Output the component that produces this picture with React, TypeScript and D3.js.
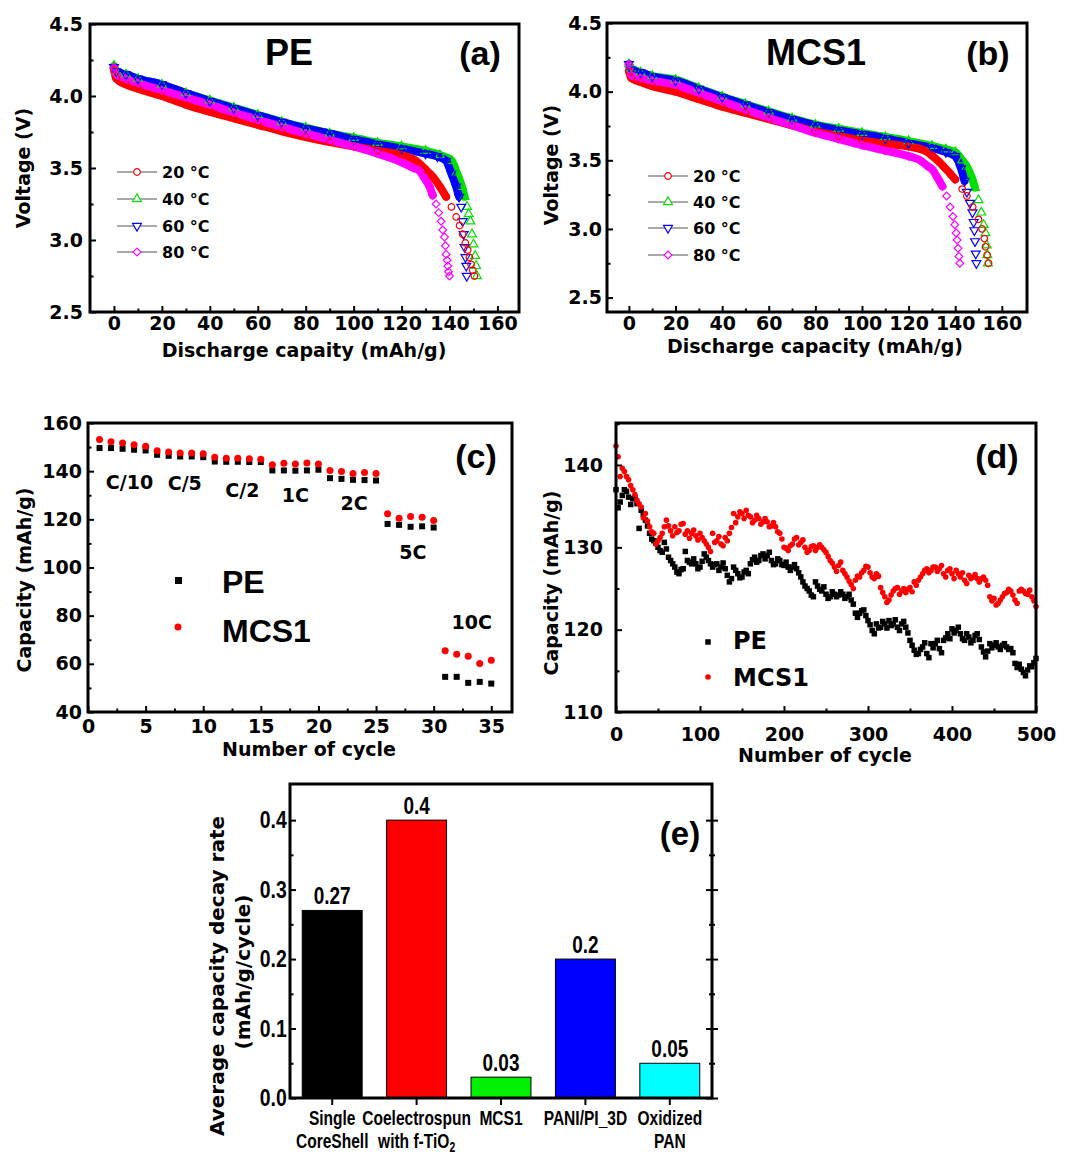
import { useEffect, useRef } from "react";
import * as d3 from "d3";

type Pt = [number, number];

// (a) PE separator – discharge curves, [capacity mAh/g, voltage V]
const peT20: Pt[] = [[0,4.18],[1,4.12],[5,4.08],[10,4.05],[20,4.0],[30,3.94],[40,3.89],[50,3.845],[60,3.8],[70,3.755],[80,3.715],[90,3.68],[100,3.65],[110,3.62],[120,3.59],[126,3.55],[130,3.49],[133,3.44],[136,3.37],[138.6,3.3],[140.8,3.23],[142.8,3.16],[144.2,3.1],[145.5,3.04],[146.6,2.98],[147.6,2.93],[148.3,2.88],[149,2.83],[149.7,2.79],[150.4,2.75]];
const peT40: Pt[] = [[0,4.21],[1,4.17],[5,4.15],[10,4.12],[20,4.08],[30,4.02],[40,3.97],[50,3.92],[60,3.87],[70,3.82],[80,3.78],[90,3.74],[100,3.71],[110,3.675],[120,3.65],[130,3.62],[136,3.59],[141,3.55],[143,3.47],[145.2,3.37],[146.3,3.3],[147.3,3.23],[148,3.18],[148.7,3.13],[149.4,3.04],[150,2.97],[150.7,2.89],[151.1,2.82],[151.4,2.75]];
const peT60: Pt[] = [[0,4.2],[1,4.17],[5,4.15],[10,4.12],[20,4.08],[30,4.02],[40,3.965],[50,3.915],[60,3.865],[70,3.82],[80,3.775],[90,3.74],[100,3.7],[110,3.665],[120,3.635],[130,3.6],[135,3.58],[138.6,3.55],[140.8,3.46],[142.8,3.37],[144,3.3],[144.9,3.23],[145.5,3.13],[145.9,3.04],[146.3,2.95],[146.7,2.88],[147,2.82],[147.2,2.75]];
const peT80: Pt[] = [[0,4.2],[1,4.15],[5,4.12],[10,4.09],[20,4.04],[30,3.99],[40,3.94],[50,3.885],[60,3.835],[70,3.785],[80,3.74],[90,3.695],[100,3.65],[110,3.6],[120,3.54],[125,3.5],[127.5,3.48],[129.5,3.43],[131.7,3.37],[133,3.31],[134.4,3.25],[135.5,3.19],[136.5,3.13],[137.2,3.07],[137.9,3.02],[138.3,2.96],[138.6,2.9],[139,2.86],[139.3,2.82],[139.6,2.78],[140,2.75]];

// (b) MCS1 separator – discharge curves
const mcsT20: Pt[] = [[0,4.15],[1,4.1],[5,4.07],[10,4.04],[20,4.0],[30,3.945],[40,3.89],[50,3.845],[60,3.8],[70,3.755],[80,3.71],[90,3.675],[100,3.645],[110,3.62],[120,3.6],[127,3.57],[130,3.535],[133,3.49],[135,3.455],[138,3.4],[140,3.36],[143,3.29],[145,3.24],[147.5,3.16],[150,3.07],[151.5,3.0],[152.5,2.93],[153,2.87],[153.7,2.81],[154.3,2.75]];
const mcsT40: Pt[] = [[0,4.2],[1,4.17],[5,4.14],[10,4.115],[20,4.087],[30,4.025],[40,3.965],[50,3.91],[60,3.856],[70,3.805],[80,3.76],[90,3.73],[100,3.7],[110,3.67],[120,3.64],[130,3.605],[136,3.58],[140,3.56],[143,3.5],[145,3.455],[147,3.38],[148.5,3.3],[150,3.21],[151.2,3.12],[152.2,3.03],[153,2.97],[153.5,2.88],[153.8,2.81],[154,2.75]];
const mcsT60: Pt[] = [[0,4.2],[1,4.16],[5,4.14],[10,4.11],[20,4.08],[30,4.02],[40,3.96],[50,3.905],[60,3.85],[70,3.8],[80,3.755],[90,3.72],[100,3.69],[110,3.66],[120,3.625],[130,3.59],[136,3.56],[140,3.53],[142.5,3.44],[144,3.35],[145,3.27],[146.3,3.19],[147.4,3.12],[147.9,3.05],[148.2,2.99],[148.5,2.91],[148.8,2.82],[149.1,2.75]];
const mcsT80: Pt[] = [[0,4.2],[1,4.12],[5,4.1],[10,4.08],[20,4.05],[30,3.99],[40,3.93],[50,3.87],[60,3.81],[70,3.755],[80,3.7],[90,3.655],[100,3.61],[110,3.57],[120,3.53],[125,3.5],[128,3.46],[130.3,3.43],[132.5,3.37],[134.5,3.31],[136.3,3.24],[137.8,3.16],[139,3.09],[139.8,3.03],[140.4,2.97],[140.8,2.92],[141.2,2.86],[141.6,2.8],[142,2.75]];

const temps = ["20 °C", "40 °C", "60 °C", "80 °C"];
const tempColors = ["#ff0000", "#00e000", "#0000ff", "#ff00ff"];

// (c) rate capability, cycles 1..35
const rateCycles = d3.range(1, 36);
const ratePE = [149.6,149.6,149.3,148.9,148.6, 146.8,146.4,146.1,146.1,145.8, 144.0,143.9,143.9,143.8,143.8, 140.3,140.3,140.2,140.3,140.6, 137.1,136.8,136.4,136.3,136.1, 118.1,117.7,116.9,117.1,116.6, 54.6,54.6,52.1,52.5,51.8];
const rateMCS = [153.1,152.2,151.7,151.0,150.3, 148.5,148.0,147.5,147.5,147.2, 145.8,145.4,145.4,145.2,145.0, 142.7,143.3,143.0,143.4,143.0, 140.3,139.9,139.0,139.4,139.0, 122.3,120.5,121.2,120.9,119.5, 65.4,64.0,63.2,60.1,61.5];
const rateNames = ["C/10", "C/5", "C/2", "1C", "2C", "5C", "10C"];

// (d) long cycling: readings at cycles 0,5,...,500 and at 2.5,7.5,...,497.5
const cycleStep = 5;
const cyclePE = [137.0,135.5,137.0,136.1,135.9,135.3,134.5,133.3,131.7,130.8,130.0,129.4,129.8,128.4,127.6,126.8,127.4,128.4,128.0,128.0,127.6,129.2,128.4,127.6,128.0,127.6,127.4,125.8,127.6,126.8,126.4,127.2,128.0,128.8,128.4,129.2,129.0,128.4,128.0,128.4,127.8,127.6,127.6,127.4,126.4,125.3,124.7,124.0,125.3,124.7,124.3,124.0,124.3,124.2,124.3,124.0,123.6,122.0,122.0,122.4,121.1,119.9,120.7,120.3,120.7,121.1,120.7,120.3,120.7,120.3,118.7,117.5,117.1,117.9,117.1,118.3,118.3,117.7,118.7,119.5,120.1,119.9,119.5,118.7,119.1,118.7,119.5,117.9,116.7,118.3,118.1,117.9,118.1,117.9,117.7,115.9,115.8,114.8,115.1,115.5,116.5];
const cyclePEmid = [134.8,136.3,136.8,135.2,136.0,132.3,134.0,132.6,131.0,130.5,129.6,130.6,128.8,128.0,127.0,127.3,129.5,128.2,128.6,127.4,128.3,128.8,128.0,127.9,127.2,128.1,126.6,126.2,127.2,126.3,127.0,126.8,128.5,128.2,129.0,128.6,129.4,127.9,128.6,127.9,128.2,127.2,127.9,126.9,125.8,125.0,124.2,125.8,124.9,125.2,123.8,124.6,124.0,124.6,123.8,124.3,123.1,121.5,122.3,121.7,120.6,119.5,120.2,121.0,120.2,120.5,121.2,119.9,121.0,119.6,118.1,117.0,117.6,118.4,116.6,117.8,118.7,117.2,119.0,118.9,119.6,120.3,118.9,119.5,118.4,119.3,118.8,117.3,117.4,117.8,118.4,117.6,118.3,117.6,117.2,115.4,115.2,114.4,115.6,116.0];
const cycleMCS = [142.3,138.6,139.2,138.2,137.0,135.7,134.9,134.1,132.5,131.7,130.8,131.7,133.3,132.0,132.5,132.0,132.9,132.0,131.7,131.4,131.7,130.8,130.0,131.7,130.8,130.4,131.2,131.7,134.1,133.7,134.1,134.5,133.7,133.3,133.5,133.1,133.1,132.6,132.5,131.7,130.0,129.6,130.4,131.2,130.6,130.0,129.6,130.2,130.0,130.0,129.4,128.4,127.6,127.8,127.2,126.4,125.5,126.0,126.4,127.2,127.6,126.4,126.8,125.1,124.0,123.6,124.7,125.1,124.7,124.5,125.1,125.8,126.0,126.8,127.4,127.2,127.6,127.4,126.8,127.2,126.8,127.2,126.4,126.0,126.6,126.4,126.2,126.2,126.0,124.0,123.8,123.2,124.0,124.5,124.7,123.6,124.7,124.7,124.3,124.0,122.8];
const cycleMCSmid = [141.0,139.6,138.6,137.5,136.4,135.3,133.6,133.2,131.9,130.4,131.2,132.5,132.6,131.4,131.8,132.8,131.6,131.1,132.1,130.9,131.2,130.4,129.5,130.6,131.3,130.2,130.8,132.4,133.0,134.3,133.5,133.9,133.0,133.9,132.8,133.5,132.5,133.0,131.9,131.0,129.9,130.2,131.0,130.3,130.9,129.4,130.1,129.6,130.3,129.7,128.9,128.1,127.1,128.2,126.8,125.9,125.0,126.5,126.9,127.7,126.9,126.2,126.5,124.5,123.3,124.2,125.0,124.3,125.0,124.9,124.6,125.4,126.4,127.2,126.9,127.6,127.1,127.8,126.4,127.4,126.2,126.8,126.9,125.6,126.2,126.7,125.8,126.4,125.4,123.5,123.0,123.6,124.4,124.9,124.2,123.2,124.9,124.4,124.8,123.5];

// (e) average capacity decay rate
const decayCats = ["Single CoreShell", "Coelectrospun with f-TiO2", "MCS1", "PANI/PI_3D", "Oxidized PAN"];
const decayVals = [0.27, 0.4, 0.03, 0.2, 0.05];
const decayLabels = ["0.27", "0.4", "0.03", "0.2", "0.05"];
const decayColors = ["#000000", "#ff0000", "#00ee00", "#0000ff", "#00ffff"];

const DJ = "'DejaVu Sans', sans-serif";
const ARIAL = "'Liberation Sans', Arial, sans-serif";

function styleAxis(sel: any, font: string, size: number, sx = 1) {
  sel.select(".domain").remove();
  sel.selectAll("line").attr("stroke", "#000").attr("stroke-width", 2);
  const t = sel.selectAll("text")
    .attr("font-family", font)
    .attr("font-size", size)
    .attr("font-weight", "bold")
    .attr("fill", "#000");
  if (sx !== 1) t.attr("transform", `scale(${sx},1)`);
}

function axes(g: any, x: any, y: any, o: any) {
  const bottom = y.range()[0];
  const left = x.range()[0];
  const font = o.font || DJ;
  const size = o.size || 19;
  g.append("g").attr("transform", `translate(0,${bottom})`)
    .call(d3.axisBottom(x).tickValues(o.xMajor).tickSize(-6).tickPadding(o.xPad).tickFormat(o.xFmt))
    .call((s: any) => styleAxis(s, font, size));
  g.append("g").attr("transform", `translate(0,${bottom})`)
    .call(d3.axisBottom(x).tickValues(o.xMinor).tickSize(-3.5).tickFormat(() => ""))
    .call((s: any) => styleAxis(s, font, size));
  g.append("g").attr("transform", `translate(${left},0)`)
    .call(d3.axisLeft(y).tickValues(o.yMajor).tickSize(-6).tickPadding(o.yPad).tickFormat(o.yFmt))
    .call((s: any) => styleAxis(s, font, size));
  g.append("g").attr("transform", `translate(${left},0)`)
    .call(d3.axisLeft(y).tickValues(o.yMinor).tickSize(-3.5).tickFormat(() => ""))
    .call((s: any) => styleAxis(s, font, size));
}

function frame(g: any, xr: number[], y: any) {
  const [x0, x1] = xr;
  const [y1, y0] = y.range();
  g.append("rect").attr("x", x0).attr("y", y0).attr("width", x1 - x0).attr("height", y1 - y0)
    .attr("fill", "none").attr("stroke", "#000").attr("stroke-width", 3);
}

function text(g: any, x: number, y: number, s: string, font: string, size: number,
  anchor = "middle", rotate = false, sx = 1) {
  const t = g.append("text").text(s)
    .attr("font-family", font).attr("font-size", size).attr("font-weight", "bold")
    .attr("text-anchor", anchor).attr("fill", "#000");
  if (rotate) {
    t.attr("x", x).attr("y", y).attr("transform", `rotate(-90,${x},${y})`).attr("dominant-baseline", "central");
  } else if (sx !== 1) {
    t.attr("x", 0).attr("y", 0).attr("transform", `translate(${x},${y}) scale(${sx},1)`);
  } else {
    t.attr("x", x).attr("y", y);
  }
  return t;
}

const symTypes = [d3.symbolCircle, d3.symbolTriangle, d3.symbolTriangle, d3.symbolSquare];
const symRot = ["", "", " rotate(180)", " rotate(45)"];
const symSize = [34, 34, 34, 30];

function marker(i: number) {
  return d3.symbol().type(symTypes[i]).size(symSize[i])();
}

function discharge(g: any, x: any, y: any, series: Pt[][], lx: number, ly: number[], tx: number) {
  const order = [1, 2, 0, 3];
  const line = d3.line<Pt>().x(d => x(d[0])).y(d => y(d[1])).curve(d3.curveMonotoneX);
  order.forEach(i => {
    g.append("path").datum(series[i].filter(d => d[1] >= 3.3)).attr("d", line)
      .attr("fill", "none").attr("stroke", tempColors[i]).attr("stroke-width", 8)
      .attr("stroke-linecap", "round").attr("stroke-linejoin", "round");
  });
  order.forEach(i => {
    g.append("g").selectAll("path").data(series[i]).join("path")
      .attr("transform", (d: Pt) => `translate(${x(d[0])},${y(d[1])})${symRot[i]}`)
      .attr("d", marker(i)).attr("fill", "none").attr("stroke", tempColors[i]).attr("stroke-width", 1.2);
  });
  // legend
  temps.forEach((t, i) => {
    g.append("line").attr("x1", lx - 20).attr("x2", lx + 20).attr("y1", ly[i]).attr("y2", ly[i])
      .attr("stroke", "#555").attr("stroke-width", 1.2);
    g.append("path").attr("transform", `translate(${lx},${ly[i]})${symRot[i]}`).attr("d", marker(i))
      .attr("fill", "#fff").attr("stroke", tempColors[i]).attr("stroke-width", 1.2);
    text(g, tx, ly[i] + 6, t, DJ, 16, "start");
  });
}

export default function App() {
  const ref = useRef<SVGSVGElement>(null);

  useEffect(() => {
    const svg = d3.select(ref.current);
    svg.selectAll("*").remove();
    const fmt1 = d3.format(".1f");

    // ---------- (a) ----------
    {
      const g = svg.append("g");
      const x = d3.scaleLinear().domain([-10, 169]).range([90, 519]);
      const y = d3.scaleLinear().domain([2.5, 4.5]).range([312, 24]);
      axes(g, x, y, {
        xMajor: d3.range(0, 161, 20), xMinor: d3.range(10, 161, 20), xPad: 5, xFmt: d3.format("d"),
        yMajor: d3.range(2.5, 4.51, 0.5), yMinor: d3.range(2.75, 4.5, 0.5), yPad: 7, yFmt: fmt1,
      });
      discharge(g, x, y, [peT20, peT40, peT60, peT80], 137, [172, 199, 226, 252], 162);
      frame(g, x.range(), y);
      text(g, 289, 65, "PE", ARIAL, 36);
      text(g, 480, 65, "(a)", ARIAL, 34);
      text(g, 23, 168, "Voltage (V)", DJ, 19, "middle", true);
      text(g, 304, 357, "Discharge capaity (mAh/g)", DJ, 19);
    }

    // ---------- (b) ----------
    {
      const g = svg.append("g");
      const x = d3.scaleLinear().domain([-9.4, 170.8]).range([607, 1027]);
      const y = d3.scaleLinear().domain([2.395, 4.5]).range([312, 23]);
      axes(g, x, y, {
        xMajor: d3.range(0, 161, 20), xMinor: d3.range(10, 161, 20), xPad: 5, xFmt: d3.format("d"),
        yMajor: d3.range(2.5, 4.51, 0.5), yMinor: d3.range(2.75, 4.5, 0.5), yPad: 5, yFmt: fmt1,
      });
      discharge(g, x, y, [mcsT20, mcsT40, mcsT60, mcsT80], 668, [176, 202, 228, 255], 693);
      frame(g, x.range(), y);
      text(g, 816, 65, "MCS1", ARIAL, 36);
      text(g, 988, 65, "(b)", ARIAL, 34);
      text(g, 551, 165, "Voltage (V)", DJ, 19, "middle", true);
      text(g, 815, 353, "Discharge capacity (mAh/g)", DJ, 19);
    }

    // ---------- (c) ----------
    {
      const g = svg.append("g");
      const x = d3.scaleLinear().domain([0, 36.8]).range([88, 512]);
      const y = d3.scaleLinear().domain([40, 160]).range([712, 423]);
      axes(g, x, y, {
        xMajor: d3.range(0, 36, 5), xMinor: d3.range(2.5, 36, 5), xPad: 8, xFmt: d3.format("d"),
        yMajor: d3.range(40, 161, 20), yMinor: d3.range(50, 160, 20), yPad: 6, yFmt: d3.format("d"),
      });
      g.append("g").selectAll("rect").data(ratePE).join("rect")
        .attr("x", (_: number, i: number) => x(rateCycles[i]) - 3).attr("y", (d: number) => y(d) - 3)
        .attr("width", 6).attr("height", 6).attr("fill", "#000");
      g.append("g").selectAll("circle").data(rateMCS).join("circle")
        .attr("cx", (_: number, i: number) => x(rateCycles[i])).attr("cy", (d: number) => y(d))
        .attr("r", 3.5).attr("fill", "#ff0000");
      const labelPos: Pt[] = [[3.6, 135.5], [8.4, 135.1], [13.4, 132.2], [18.0, 130.1], [23.1, 126.8], [28.2, 106.4], [33.3, 77.4]];
      rateNames.forEach((n, i) => {
        text(g, x(labelPos[i][0]), y(labelPos[i][1]) + 7, n, DJ, 19);
      });
      g.append("rect").attr("x", 175).attr("y", 577).attr("width", 7).attr("height", 7).attr("fill", "#000");
      g.append("circle").attr("cx", 178).attr("cy", 627).attr("r", 3.5).attr("fill", "#ff0000");
      text(g, 222, 593, "PE", ARIAL, 32, "start");
      text(g, 222, 642, "MCS1", ARIAL, 32, "start");
      frame(g, x.range(), y);
      text(g, 476, 468, "(c)", ARIAL, 34);
      text(g, 24, 580, "Capacity (mAh/g)", DJ, 19, "middle", true);
      text(g, 309, 756, "Number of cycle", DJ, 19);
    }

    // ---------- (d) ----------
    {
      const g = svg.append("g");
      const x = d3.scaleLinear().domain([0, 500]).range([616, 1036]);
      const y = d3.scaleLinear().domain([110, 145.1]).range([712, 423]);
      axes(g, x, y, {
        xMajor: d3.range(0, 501, 100), xMinor: d3.range(50, 500, 100), xPad: 16, xFmt: d3.format("d"),
        yMajor: d3.range(110, 141, 10), yMinor: d3.range(115, 146, 10), yPad: 13, yFmt: d3.format("d"),
      });
      const sq = 5.5, r = 2.8;
      const drawPE = (vals: number[], off: number) =>
        g.append("g").selectAll("rect").data(vals).join("rect")
          .attr("x", (_: number, i: number) => x(i * cycleStep + off) - sq / 2).attr("y", (d: number) => y(d) - sq / 2)
          .attr("width", sq).attr("height", sq).attr("fill", "#000");
      const drawMCS = (vals: number[], off: number) =>
        g.append("g").selectAll("circle").data(vals).join("circle")
          .attr("cx", (_: number, i: number) => x(i * cycleStep + off)).attr("cy", (d: number) => y(d))
          .attr("r", r).attr("fill", "#ff0000");
      drawPE(cyclePE, 0);
      drawPE(cyclePEmid, cycleStep / 2);
      drawMCS(cycleMCS, 0);
      drawMCS(cycleMCSmid, cycleStep / 2);
      g.append("rect").attr("x", 708 - sq / 2).attr("y", 642 - sq / 2).attr("width", sq).attr("height", sq).attr("fill", "#000");
      g.append("circle").attr("cx", 708).attr("cy", 677).attr("r", r).attr("fill", "#ff0000");
      text(g, 733, 649, "PE", DJ, 24, "start");
      text(g, 733, 686, "MCS1", DJ, 24, "start");
      frame(g, x.range(), y);
      text(g, 997, 468, "(d)", ARIAL, 34);
      text(g, 551, 583, "Capacity (mAh/g)", DJ, 19, "middle", true);
      text(g, 825, 762, "Number of cycle", DJ, 19);
    }

    // ---------- (e) ----------
    {
      const g = svg.append("g");
      const x = d3.scaleBand().domain(decayCats).range([290, 712]).paddingInner(0.29).paddingOuter(0.145);
      const y = d3.scaleLinear().domain([0, 0.452]).range([1098, 784]);
      g.append("g").selectAll("rect").data(decayVals).join("rect")
        .attr("x", (_: number, i: number) => x(decayCats[i])).attr("y", (d: number) => y(d))
        .attr("width", x.bandwidth()).attr("height", (d: number) => y(0) - y(d))
        .attr("fill", (_: number, i: number) => decayColors[i]).attr("stroke", "#000").attr("stroke-width", 1);
      decayVals.forEach((v, i) => {
        text(g, x(decayCats[i])! + x.bandwidth() / 2, y(v) - 6, decayLabels[i], ARIAL, 24, "middle", false, 0.79);
      });
      const yMajor = d3.range(0, 0.41, 0.1);
      const yMinor = d3.range(0.05, 0.45, 0.1);
      g.append("g").attr("transform", "translate(290,0)")
        .call(d3.axisLeft(y).tickValues(yMajor).tickSize(-6).tickPadding(4).tickFormat(fmt1))
        .call((s: any) => styleAxis(s, ARIAL, 24, 0.81));
      g.append("g").attr("transform", "translate(290,0)")
        .call(d3.axisLeft(y).tickValues(yMinor).tickSize(-3.5).tickFormat(() => ""))
        .call((s: any) => styleAxis(s, ARIAL, 24));
      [6, -6].forEach(sz => {
        g.append("g").attr("transform", "translate(712,0)")
          .call(d3.axisRight(y).tickValues(yMajor).tickSize(sz).tickFormat(() => ""))
          .call((s: any) => styleAxis(s, ARIAL, 24));
        g.append("g").attr("transform", "translate(712,0)")
          .call(d3.axisRight(y).tickValues(yMinor).tickSize(sz / 2).tickFormat(() => ""))
          .call((s: any) => styleAxis(s, ARIAL, 24));
      });
      g.append("g").attr("transform", "translate(0,1098)")
        .call(d3.axisBottom(x).tickSize(7).tickFormat(() => ""))
        .call((s: any) => styleAxis(s, ARIAL, 20));
      frame(g, [290, 712], y);
      // category labels (two lines where needed)
      const lines = [["Single", "CoreShell"], ["Coelectrospun", "with f-TiO"], ["MCS1"], ["PANI/PI_3D"], ["Oxidized", "PAN"]];
      lines.forEach((ls, i) => {
        const cx = x(decayCats[i])! + x.bandwidth() / 2;
        ls.forEach((l, j) => {
          const t = text(g, cx, 1125 + j * 23, l, ARIAL, 21, "middle", false, 0.74);
          if (i === 1 && j === 1) t.append("tspan").attr("font-size", 14).attr("dy", 4).text("2");
        });
      });
      text(g, 680, 845, "(e)", ARIAL, 33);
      text(g, 217, 976, "Average capacity decay rate", DJ, 20, "middle", true);
      text(g, 243, 972, "(mAh/g/cycle)", DJ, 20, "middle", true);
    }
  }, []);

  return <svg ref={ref} width={1069} height={1159} style={{ position: "absolute", left: 0, top: 0, background: "#fff" }} />;
}
